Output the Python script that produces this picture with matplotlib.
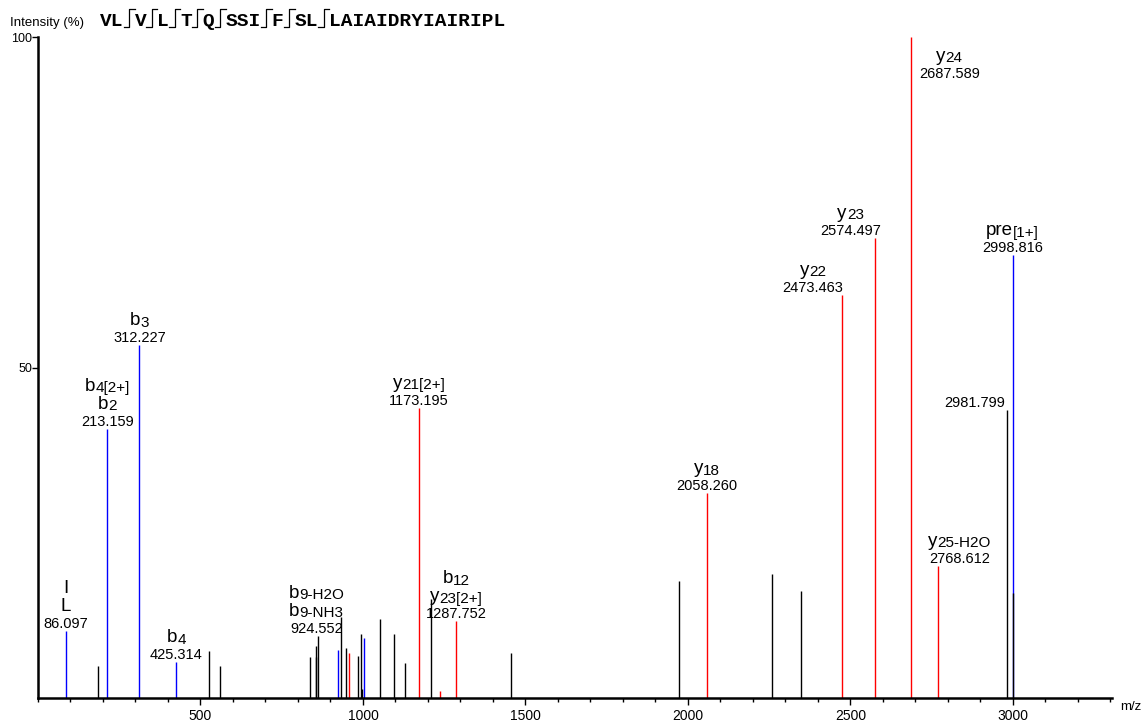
import matplotlib
matplotlib.use('Agg')
import matplotlib.pyplot as plt
from matplotlib.transforms import offset_copy
from matplotlib.lines import Line2D
from matplotlib.ticker import MultipleLocator

plt.rcParams['font.family'] = ['Liberation Sans', 'DejaVu Sans']

# peptide sequence, split at the observed fragment sites
seq_groups = ['VL', 'V', 'L', 'T', 'Q', 'SSI', 'F', 'SL', 'LAIAIDRYIAIRIPL']

# b-ion matches (blue)
b_mz = [86.097, 213.159, 312.227, 425.314, 924.552, 1003.0, 2998.816]
b_int = [10.1, 40.7, 53.4, 5.4, 7.3, 9.1, 67.0]

# y-ion matches (red)
y_mz = [955.7, 1173.195, 1236.0, 1287.752, 2058.260, 2473.463, 2574.497, 2687.589, 2768.612]
y_int = [6.8, 43.9, 1.0, 11.6, 31.0, 61.0, 69.6, 100.0, 20.0]

# unassigned peaks (black)
o_mz = [186, 525, 559, 836, 854, 857, 861, 931, 948.5, 984, 994.6, 998, 1051, 1097, 1130,
        1208, 1457, 1972, 2258, 2347, 2981.799, 2999.6]
o_int = [4.8, 7.1, 4.8, 6.2, 6.2, 7.9, 9.4, 12.3, 7.5, 6.4, 9.7, 1.4, 12.0, 9.7, 5.3,
         15.0, 6.8, 17.7, 18.8, 16.2, 43.6, 15.9]

# annotated peaks: m/z, intensity, ion names (top to bottom), "big|small" parts
ann_mz = [86.097, 213.159, 312.227, 425.314, 924.552, 1173.195, 1287.752, 2058.260,
          2473.463, 2574.497, 2687.589, 2768.612, 2981.799, 2998.816]
ann_int = [10.1, 40.7, 53.4, 5.4, 7.3, 43.9, 11.6, 31.0, 61.0, 69.6, 100.0, 20.0, 43.6, 67.0]
ann_ions = [['I', 'L'], ['b|4[2+]', 'b|2'], ['b|3'], ['b|4'], ['b|9-H2O', 'b|9-NH3'],
            ['y|21[2+]'], ['b|12', 'y|23[2+]'], ['y|18'], ['y|22'], ['y|23'], ['y|24'],
            ['y|25-H2O'], [], ['pre|[1+]']]
# label shifts in pixels (dx, dy) so labels don't collide
ann_shift = {924.552: (-22, 14), 2473.463: (-29, 0), 2574.497: (-24, 0),
             2687.589: (38, -44), 2768.612: (22, 0), 2981.799: (-32, 0)}

W, H = 1144, 727
fig = plt.figure(figsize=(W / 100, H / 100), dpi=100)
ax = fig.add_axes([38 / W, 29 / H, (1112 - 38) / W, (698 - 37) / H])

ax.vlines(b_mz, 0, b_int, color='#0000ff', lw=1.0)
ax.vlines(y_mz, 0, y_int, color='#ff0000', lw=1.0)
ax.vlines(o_mz, 0, o_int, color='#000000', lw=1.0)

ax.set_xlim(0, 3305)
ax.set_ylim(0, 100)
for s in ['top', 'right']:
    ax.spines[s].set_visible(False)
for s in ['left', 'bottom']:
    ax.spines[s].set_linewidth(1.8)
ax.set_xticks([500, 1000, 1500, 2000, 2500, 3000])
ax.xaxis.set_minor_locator(MultipleLocator(100))
ax.set_yticks([50, 100])
ax.tick_params(axis='x', which='major', length=5, width=1, labelsize=10, pad=3)
ax.tick_params(axis='x', which='minor', length=3, width=1)
ax.tick_params(axis='y', length=4, width=1, labelsize=9, pad=0)

renderer = fig.canvas.get_renderer()
NUM, BIG, SMALL = 10.5, 13.5, 11
LINE = 18


def text_line(mz, inten, parts, dx, dy):
    texts = []
    widths = []
    for s, size, sh in parts:
        if not s:
            continue
        t = ax.text(mz, inten, s, fontsize=size, ha='left', va='baseline')
        widths.append(t.get_window_extent(renderer).width)
        texts.append((t, sh))
    x = dx - sum(widths) / 2
    for (t, sh), w in zip(texts, widths):
        t.set_transform(offset_copy(ax.transData, fig=fig, x=x, y=dy + sh, units='dots'))
        x += w


for mz, inten, ions in zip(ann_mz, ann_int, ann_ions):
    dx, dy = ann_shift.get(mz, (0, 0))
    y = dy + 3
    text_line(mz, inten, [(f'{mz:.3f}', NUM, 0)], dx, y)
    y += LINE - 1
    for line in reversed(ions):
        big, _, small = line.partition('|')
        text_line(mz, inten, [(big, BIG, 0), (small, SMALL, -1.5)], dx, y)
        y += LINE

# header: axis title and fragmented sequence
fig.text(10 / W, 1 - 26 / H, 'Intensity (%)', fontsize=9.5, va='baseline')
fig.text(1120 / W, 1 - 710 / H, 'm/z', fontsize=9.5, va='baseline')

x = 100
base = 26
for i, g in enumerate(seq_groups):
    t = fig.text(x / W, 1 - base / H, g, family='Liberation Mono', weight='bold',
                 fontsize=14, va='baseline')
    x += t.get_window_extent(renderer).width
    if i < len(seq_groups) - 1:
        xv = x + 5.5
        fig.add_artist(Line2D([x / W, xv / W, xv / W, (xv + 5.5) / W],
                              [1 - (base + 1) / H, 1 - (base + 1) / H, 1 - 9 / H, 1 - 9 / H],
                              transform=fig.transFigure, color='black', lw=0.9))
        x = xv + 5.5

fig.savefig('out.png', dpi=100)
